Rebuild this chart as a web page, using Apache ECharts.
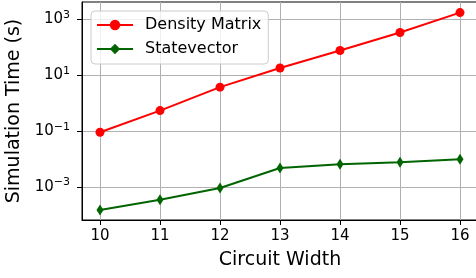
<!DOCTYPE html>
<html>
<head>
<meta charset="utf-8">
<script src="https://cdn.jsdelivr.net/npm/echarts@6/dist/echarts.min.js"></script>
<style>
  html, body { margin: 0; padding: 0; background: #fff; }
  #chart { width: 476px; height: 278px; }
</style>
</head>
<body>
<div id="chart"></div>
<script>
const widths = [10, 11, 12, 13, 14, 15, 16];
const densityMatrix = [0.092, 0.55, 3.8, 18.4, 78, 345, 1780];
const statevector = [0.00015, 0.00035, 0.00093, 0.0048, 0.0066, 0.0078, 0.01];
const yTicks = [0.001, 0.1, 10, 1000];

const FONT = "DejaVu Sans";

const pairs = (ys) => widths.map((x, i) => [x, ys[i]]);

const supLabel = (v) => {
  const e = Math.round(Math.log10(v));
  const s = e < 0 ? "\u2212" + Math.abs(e) : String(e);
  return "10{sup|" + s + "}";
};

const chart = echarts.init(document.getElementById("chart"));

const option = {
  animation: false,
  textStyle: { fontFamily: FONT },
  grid: {
    left: 82,
    top: 2,
    width: 396,
    height: 218,
    containLabel: false,
    outerBoundsMode: "none",
    show: true,
    borderColor: "#000",
    borderWidth: 1,
    backgroundColor: "transparent",
  },
  legend: {
    orient: "vertical",
    left: 91,
    top: 11,
    itemWidth: 36,
    itemHeight: 13,
    itemGap: 8,
    padding: [6, 7, 7, 5],
    backgroundColor: "rgba(255,255,255,0.8)",
    borderColor: "#cccccc",
    borderWidth: 1,
    borderRadius: 4,
    textStyle: { fontFamily: FONT, fontSize: 16, color: "#000", padding: [0, 0, 0, 7] },
    data: ["Density Matrix", "Statevector"],
  },
  xAxis: {
    type: "value",
    min: 9.7,
    max: 16.3,
    name: "Circuit Width",
    nameLocation: "middle",
    nameGap: 31,
    nameTextStyle: { fontFamily: FONT, fontSize: 19, color: "#000" },
    axisLine: { lineStyle: { color: "#000", width: 1 } },
    axisTick: { show: true, length: 5, lineStyle: { color: "#000" }, customValues: widths },
    axisLabel: { fontFamily: FONT, fontSize: 15, color: "#000", margin: 9, customValues: widths },
    splitLine: { show: true, lineStyle: { color: "#b0b0b0", width: 1 } },
  },
  yAxis: {
    type: "log",
    logBase: 10,
    min: Math.pow(10, -4.18),
    max: Math.pow(10, 3.63),
    name: "Simulation Time (s)",
    nameLocation: "middle",
    nameGap: 57,
    nameTextStyle: { fontFamily: FONT, fontSize: 19, color: "#000" },
    axisLine: { show: true, lineStyle: { color: "#000", width: 1 } },
    axisTick: { show: true, length: 5, lineStyle: { color: "#000" }, customValues: yTicks },
    axisLabel: {
      fontFamily: FONT,
      fontSize: 15,
      color: "#000",
      margin: 12,
      customValues: yTicks,
      formatter: supLabel,
      rich: {
        sup: { fontFamily: FONT, fontSize: 11, verticalAlign: "bottom", padding: [0, 0, 9, 0] },
      },
    },
    splitLine: { show: true, lineStyle: { color: "#b0b0b0", width: 1 } },
  },
  series: [
    {
      name: "Density Matrix",
      type: "line",
      data: pairs(densityMatrix),
      symbol: "circle",
      symbolSize: 9,
      lineStyle: { color: "#ff0000", width: 2 },
      itemStyle: { color: "#ff0000" },
    },
    {
      name: "Statevector",
      type: "line",
      data: pairs(statevector),
      symbol: "diamond",
      symbolSize: [7, 11],
      lineStyle: { color: "#006400", width: 2 },
      itemStyle: { color: "#006400" },
    },
  ],
};

option && chart.setOption(option);
</script>
</body>
</html>
